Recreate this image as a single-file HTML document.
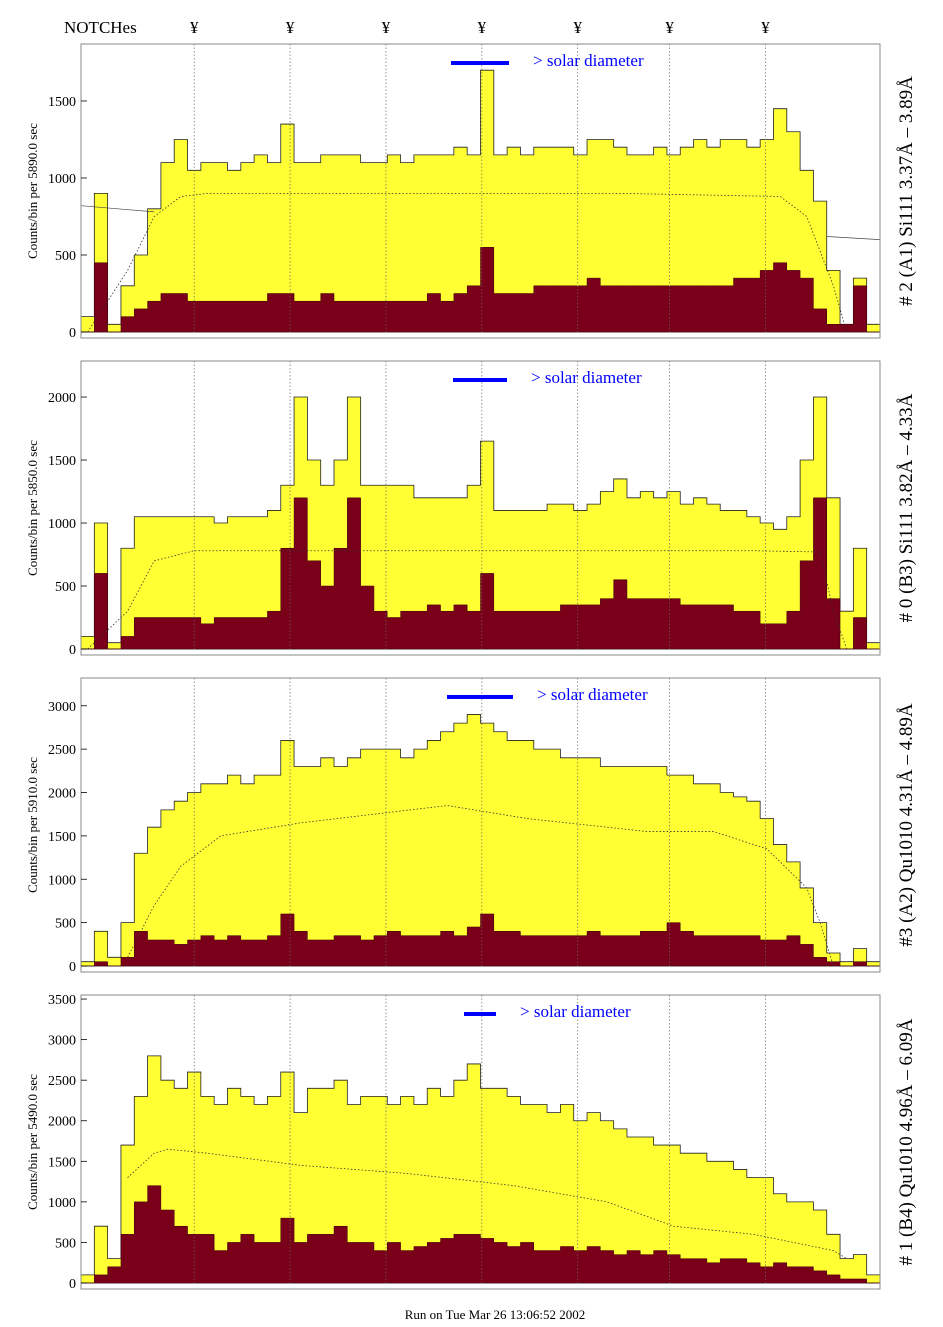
<!DOCTYPE html>
<html><head><meta charset="utf-8">
<style>
body{margin:0;background:#fff;}
svg{display:block;font-family:"Liberation Serif",serif;}
</style></head>
<body>
<svg id="c" width="943" height="1327" viewBox="0 0 943 1327"></svg>
<script>
const NS="http://www.w3.org/2000/svg";
const svg=document.getElementById('c');
const notchLabels=["¥","¥","¥","¥","¥","¥","¥"];
const notchBins=[8.5,15.7,22.9,30.1,37.3,44.2,51.4];
const panelTitles=["# 2 (A1) Si111  3.37Å – 3.89Å","# 0 (B3) Si111  3.82Å – 4.33Å","#3 (A2) Qu1010  4.31Å – 4.89Å","# 1 (B4) Qu1010 4.96Å – 6.09Å"];
const panelExposure=["5890.0","5850.0","5910.0","5490.0"];
const yTicks1=[0,500,1000,1500];
const yTicks2=[0,500,1000,1500,2000];
const yTicks3=[0,500,1000,1500,2000,2500,3000];
const yTicks4=[0,500,1000,1500,2000,2500,3000,3500];
const yMax=[1870,2286,3320,3550];
const total1=[100,900,50,300,500,800,1100,1250,1050,1100,1100,1050,1100,1150,1100,1350,1100,1100,1150,1150,1150,1100,1100,1150,1100,1150,1150,1150,1200,1150,1700,1150,1200,1150,1200,1200,1200,1150,1250,1250,1200,1150,1150,1200,1150,1200,1250,1200,1250,1250,1200,1250,1450,1300,1050,850,400,50,350,50];
const line1=[0,450,0,100,150,200,250,250,200,200,200,200,200,200,250,250,200,200,250,200,200,200,200,200,200,200,250,200,250,300,550,250,250,250,300,300,300,300,350,300,300,300,300,300,300,300,300,300,300,350,350,400,450,400,350,150,50,50,300,0];
const total2=[100,1000,50,800,1050,1050,1050,1050,1050,1050,1000,1050,1050,1050,1100,1300,2000,1500,1300,1500,2000,1300,1300,1300,1300,1200,1200,1200,1200,1300,1650,1100,1100,1100,1100,1150,1150,1100,1150,1250,1350,1200,1250,1200,1250,1150,1200,1150,1100,1100,1050,1000,950,1050,1500,2000,1200,300,800,50];
const line2=[0,600,0,100,250,250,250,250,250,200,250,250,250,250,300,800,1200,700,500,800,1200,500,300,250,300,300,350,300,350,300,600,300,300,300,300,300,350,350,350,400,550,400,400,400,400,350,350,350,350,300,300,200,200,300,700,1200,400,0,250,0];
const total3=[50,400,100,500,1300,1600,1800,1900,2000,2100,2100,2200,2100,2200,2200,2600,2300,2300,2400,2300,2400,2500,2500,2500,2400,2500,2600,2700,2800,2900,2800,2700,2600,2600,2500,2500,2400,2400,2400,2300,2300,2300,2300,2300,2200,2200,2100,2100,2000,1950,1900,1700,1400,1200,900,500,150,50,200,50];
const line3=[0,50,0,100,400,300,300,250,300,350,300,350,300,300,350,600,400,300,300,350,350,300,350,400,350,350,350,400,350,450,600,400,400,350,350,350,350,350,400,350,350,350,400,400,500,400,350,350,350,350,350,300,300,350,250,100,50,0,50,0];
const total4=[100,700,300,1700,2300,2800,2500,2400,2600,2300,2200,2400,2300,2200,2300,2600,2100,2400,2400,2500,2200,2300,2300,2200,2300,2200,2400,2300,2500,2700,2400,2400,2300,2200,2200,2100,2200,2000,2100,2000,1900,1800,1800,1700,1700,1600,1600,1500,1500,1400,1300,1300,1100,1000,1000,900,600,300,350,100];
const line4=[0,100,200,600,1000,1200,900,700,600,600,400,500,600,500,500,800,500,600,600,700,500,500,400,500,400,450,500,550,600,600,550,500,450,500,400,400,450,400,450,400,350,400,350,400,350,300,300,250,300,300,250,200,250,200,200,150,100,50,50,0];
const modelIdx1=[0,3,5,7,9,20,40,52,54,56,57];
const modelVal1=[0,400,750,880,900,900,900,880,750,300,0];
const modelIdx2=[0,3,5,8,30,50,55,56,57];
const modelVal2=[0,300,700,780,780,780,770,300,0];
const modelIdx3=[3,5,7,10,16,27,33,42,47,51,54,55,56];
const modelVal3=[100,700,1150,1500,1650,1850,1700,1550,1550,1350,900,500,0];
const modelIdx4=[3,5,6,9,16,24,32,39,44,50,56,57];
const modelVal4=[1300,1600,1650,1600,1450,1350,1200,1000,700,600,400,300];
const bgIdx1=[0,5.5];
const bgVal1=[820,780];
const bgIdx1r=[56,60];
const bgVal1r=[620,600];
const totals=[total1,total2,total3,total4];
const lines=[line1,line2,line3,line4];
const ticks=[yTicks1,yTicks2,yTicks3,yTicks4];
const mIdx=[modelIdx1,modelIdx2,modelIdx3,modelIdx4];
const mVal=[modelVal1,modelVal2,modelVal3,modelVal4];
const panelTop=[44,361,678,995], panelH=294, X0=81, X1=880, NB=60;
const solarBarX=[[451,509],[453,507],[447,513],[464,496]];

function el(tag,attrs,parent){const e=document.createElementNS(NS,tag);for(const k in attrs)e.setAttribute(k,attrs[k]);(parent||svg).appendChild(e);return e;}
function xs(i){return X0+(X1-X0)*i/NB;}

for(let p=0;p<4;p++){
  const top=panelTop[p], bot=top+panelH-6;
  const ys=v=>bot-(v/yMax[p])*(panelH-6);
  const g=el('g',{});
  
  
  let d='M'+xs(0)+' '+bot;
  totals[p].forEach((v,i)=>{d+=' L'+xs(i)+' '+ys(v)+' L'+xs(i+1)+' '+ys(v);});
  d+=' L'+xs(NB)+' '+bot+' Z';
  const tp=el('path',{d:d,fill:'#ffff33',stroke:'#222','stroke-width':0.8},g);
  
  
  let d2='M'+xs(0)+' '+bot;
  lines[p].forEach((v,i)=>{d2+=' L'+xs(i)+' '+ys(v)+' L'+xs(i+1)+' '+ys(v);});
  d2+=' L'+xs(NB)+' '+bot+' Z';
  const lp=el('path',{d:d2,fill:'#7a0019',stroke:'#3a0008','stroke-width':0.5},g);
  
  
  let d3='';
  mIdx[p].forEach((b,i)=>{d3+=(i?' L':'M')+xs(b+0.5)+' '+ys(mVal[p][i]);});
  const mp=el('path',{d:d3,fill:'none',stroke:'#333','stroke-width':0.8,'stroke-dasharray':'1.5,2'},g);
  
  
  if(p===0){
    [[bgIdx1,bgVal1],[bgIdx1r,bgVal1r]].forEach(([ix,vv])=>{
      const bl=el('line',{x1:xs(ix[0]),x2:xs(ix[1]),y1:ys(vv[0]),y2:ys(vv[1]),stroke:'#444','stroke-width':0.7},g);
      
      
    });
  }
  notchBins.forEach(b=>{
    const ln=el('line',{x1:xs(b),x2:xs(b),y1:top,y2:bot,stroke:'#666','stroke-width':0.7,'stroke-dasharray':'1.5,2'},g);
    
    
  });
  const fr=el('rect',{x:X0,y:top,width:X1-X0,height:panelH,fill:'none',stroke:'#888','stroke-width':1},g);
  
  
  ticks[p].forEach(t=>{
    const y=ys(t);
    el('line',{x1:X0,x2:X0+6,y1:y,y2:y,stroke:'#000','stroke-width':0.8},g);
    const tx=el('text',{x:X0-5,y:y+5,'text-anchor':'end','font-size':14},g);
    tx.textContent=t;
    
    
  });
  const yt=el('text',{transform:`translate(37,${top+panelH/2}) rotate(-90)`,'text-anchor':'middle','font-size':13},g);
  yt.textContent='Counts/bin per   '+panelExposure[p]+' sec';
  
  
  const rt=el('text',{transform:`translate(912,${top+panelH/2}) rotate(-90)`,'text-anchor':'middle','font-size':19},g);
  rt.textContent=panelTitles[p];
  
  
  const sb=el('line',{x1:solarBarX[p][0],x2:solarBarX[p][1],y1:top+19,y2:top+19,stroke:'#0000ff','stroke-width':4},g);
  
  
  const st=el('text',{x:solarBarX[p][1]+24,y:top+22,'font-size':17,fill:'#0000ff'},g);
  st.textContent='> solar diameter';
  
  
}
const nt=el('text',{x:64,y:33,'font-size':17});
nt.textContent='NOTCHes';


notchBins.forEach((b,i)=>{
  const t=el('text',{x:xs(b),y:33,'font-size':17,'text-anchor':'middle'});
  t.textContent=notchLabels[i];
  
  
});
const ft=el('text',{x:495,y:1319,'font-size':13,'text-anchor':'middle'});
ft.textContent='Run on Tue Mar 26 13:06:52 2002';


</script>
</body></html>
